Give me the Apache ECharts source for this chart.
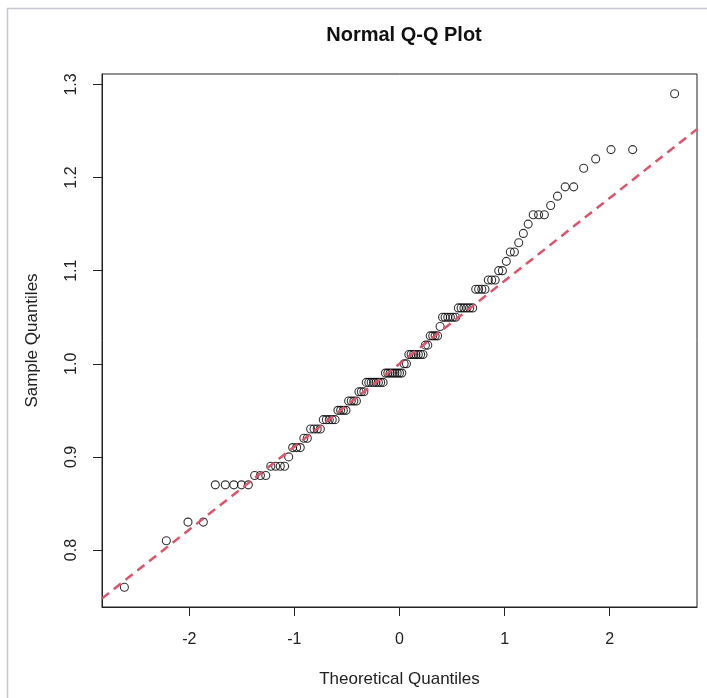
<!DOCTYPE html>
<html>
<head>
<meta charset="utf-8">
<script src="https://cdn.jsdelivr.net/npm/echarts@6/dist/echarts.min.js"></script>
<style>
html,body{margin:0;padding:0;background:#fff;}
#chart{width:707px;height:698px;}
</style>
</head>
<body>
<div id="chart"></div>
<script>
// Theoretical quantiles (x), ascending
const theoreticalQuantiles = [
  -2.617, -2.218, -2.012, -1.866, -1.752, -1.657, -1.576, -1.503, -1.438, -1.378,
  -1.323, -1.272, -1.224, -1.178, -1.134, -1.093, -1.054, -1.016, -0.979, -0.944,
  -0.910, -0.877, -0.845, -0.813, -0.783, -0.753, -0.725, -0.696, -0.668, -0.640,
  -0.613, -0.586, -0.560, -0.534, -0.509, -0.484, -0.459, -0.434, -0.410, -0.386,
  -0.363, -0.339, -0.316, -0.292, -0.269, -0.246, -0.224, -0.201, -0.179, -0.156,
  -0.134, -0.111, -0.089, -0.066, -0.044, -0.022, 0.000,
  0.022, 0.044, 0.066, 0.089, 0.111, 0.134, 0.156, 0.179, 0.201, 0.224,
  0.246, 0.269, 0.292, 0.316, 0.339, 0.363, 0.386, 0.410, 0.434, 0.459,
  0.484, 0.509, 0.534, 0.560, 0.586, 0.613, 0.640, 0.668, 0.696, 0.725,
  0.753, 0.783, 0.813, 0.845, 0.877, 0.910, 0.944, 0.979, 1.016, 1.054,
  1.093, 1.134, 1.178, 1.224, 1.272, 1.323, 1.378, 1.438, 1.503, 1.576,
  1.657, 1.752, 1.866, 2.012, 2.218, 2.617
];

// Sample quantiles (y), sorted ascending
const sampleQuantiles = [
  0.76, 0.81, 0.83, 0.83, 0.87, 0.87, 0.87, 0.87, 0.87, 0.88,
  0.88, 0.88, 0.89, 0.89, 0.89, 0.89, 0.90, 0.91, 0.91, 0.91,
  0.92, 0.92, 0.93, 0.93, 0.93, 0.93, 0.94, 0.94, 0.94, 0.94,
  0.94, 0.95, 0.95, 0.95, 0.95, 0.96, 0.96, 0.96, 0.96, 0.97,
  0.97, 0.97, 0.98, 0.98, 0.98, 0.98, 0.98, 0.98, 0.98, 0.98,
  0.99, 0.99, 0.99, 0.99, 0.99, 0.99, 0.99,
  0.99, 1.00, 1.00, 1.01, 1.01, 1.01, 1.01, 1.01, 1.01, 1.01,
  1.02, 1.02, 1.03, 1.03, 1.03, 1.03, 1.04, 1.05, 1.05, 1.05,
  1.05, 1.05, 1.05, 1.06, 1.06, 1.06, 1.06, 1.06, 1.06, 1.08,
  1.08, 1.08, 1.08, 1.09, 1.09, 1.09, 1.10, 1.10, 1.11, 1.12,
  1.12, 1.13, 1.14, 1.15, 1.16, 1.16, 1.16, 1.17, 1.18, 1.19,
  1.19, 1.21, 1.22, 1.23, 1.23, 1.29
];

// Reference (qq) line endpoints
const refLineX = [-2.83, 2.83];
const refLineY = [0.748, 1.252];

// Axis ticks
const xTicks = [-2, -1, 0, 1, 2];
const yTicks = [0.8, 0.9, 1.0, 1.1, 1.2, 1.3];

const chart = echarts.init(document.getElementById('chart'), null, {renderer: 'canvas'});
const FONT = '"Liberation Sans", Arial, sans-serif';

const points = theoreticalQuantiles.map((t, i) => [t, sampleQuantiles[i]]);
const lineData = refLineX.map((x, i) => [x, refLineY[i]]);

chart.setOption({
  animation: false,
  backgroundColor: '#ffffff',
  title: {
    text: 'Normal Q-Q Plot',
    left: 399,
    top: 20,
    textAlign: 'center',
    textStyle: {fontFamily: FONT, fontSize: 20, fontWeight: 'bold', color: '#111'}
  },
  grid: {
    left: 102, right: 10, top: 74, bottom: 91,
    show: true, borderColor: '#222', borderWidth: 1, backgroundColor: 'transparent',
    containLabel: false, outerBoundsMode: 'none'
  },
  xAxis: {
    type: 'value',
    min: -2.83, max: 2.83,
    name: 'Theoretical Quantiles',
    nameLocation: 'middle',
    nameGap: 64,
    nameTextStyle: {fontFamily: FONT, fontSize: 17, color: '#222'},
    splitLine: {show: false},
    axisLine: {show: true, onZero: false, lineStyle: {color: '#222', width: 1}},
    axisTick: {show: true, customValues: xTicks, length: 9, inside: false, lineStyle: {color: '#222', width: 1}},
    axisLabel: {customValues: xTicks, fontFamily: FONT, fontSize: 16, color: '#222', margin: 25,
      formatter: v => String(v)}
  },
  yAxis: {
    type: 'value',
    min: 0.7388, max: 1.3112,
    name: 'Sample Quantiles',
    nameLocation: 'middle',
    nameRotate: 90,
    nameGap: 61,
    nameTextStyle: {fontFamily: FONT, fontSize: 17, color: '#222'},
    splitLine: {show: false},
    axisLine: {show: true, onZero: false, lineStyle: {color: '#222', width: 1}},
    axisTick: {show: true, customValues: yTicks, length: 9, inside: false, lineStyle: {color: '#222', width: 1}},
    axisLabel: {customValues: yTicks, rotate: 90, fontFamily: FONT, fontSize: 16, color: '#222', margin: 22,
      formatter: v => v.toFixed(1)}
  },
  graphic: [{
    type: 'polyline',
    shape: {points: [[7.5, 698], [7.5, 8.5], [707, 8.5]]},
    style: {stroke: '#c8c8d2', lineWidth: 1.5, fill: null},
    silent: true
  }],
  series: [{
    type: 'scatter',
    data: points,
    symbol: 'circle',
    symbolSize: 8,
    itemStyle: {color: 'rgba(0,0,0,0)', borderColor: '#000', borderWidth: 1.1},
    z: 2
  }, {
    type: 'line',
    data: lineData,
    showSymbol: false,
    symbol: 'none',
    lineStyle: {color: '#DF536B', width: 2.5, type: [9, 6]},
    z: 3
  }]
});
</script>
</body>
</html>
